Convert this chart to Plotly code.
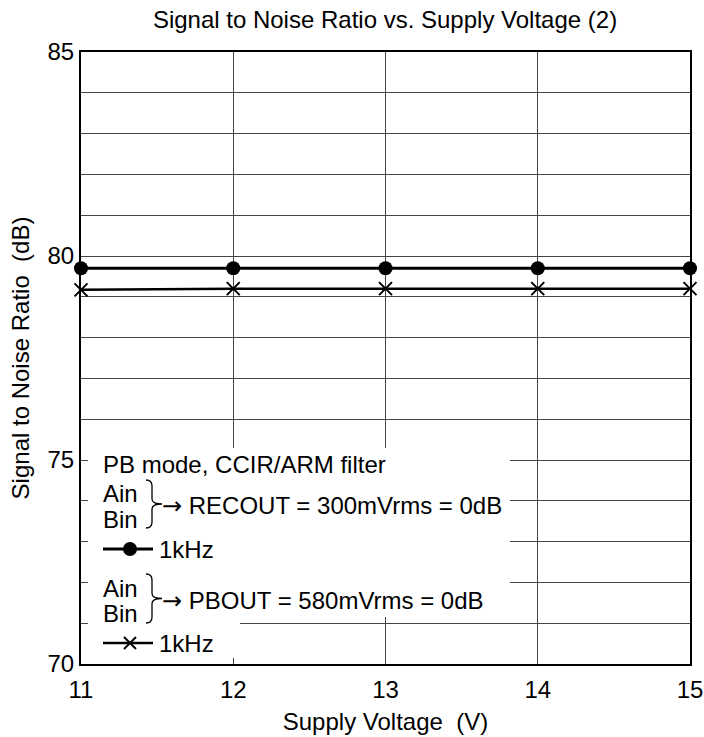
import plotly.graph_objects as go

# Daten
voltage = [11, 12, 13, 14, 15]
snr_recout = [79.7, 79.7, 79.7, 79.7, 79.7]
snr_pbout = [79.17, 79.2, 79.2, 79.2, 79.2]
x_ticks = [11, 12, 13, 14, 15]
y_ticks = [70, 75, 80, 85]

FONT = "Liberation Sans, Arial, Helvetica, sans-serif"
FS = 24
W, H = 704, 737

# Seitenpixel -> Achsenwerte (Plotfläche 81..690 x 52..664)
def dx(px):
    return 11 + (px - 81) / 609 * 4

def dy(py):
    return 85 - (py - 52) / 612 * 15

def px_x(px):
    return (px - 81) / 609

def px_y(py):
    return 1 - (py - 52) / 612

fig = go.Figure()
fig.add_trace(go.Scatter(
    x=voltage, y=snr_recout, mode='lines+markers', name='1kHz',
    line=dict(color='black', width=3),
    marker=dict(symbol='circle', size=14, color='black'),
    cliponaxis=False
))
fig.add_trace(go.Scatter(
    x=voltage, y=snr_pbout, mode='lines+markers', name='1kHz',
    line=dict(color='black', width=2.5),
    marker=dict(symbol='x-thin', size=13, line=dict(color='black', width=2)),
    cliponaxis=False
))

# weiße Flächen über dem Gitter (Legendenbereich)
shapes = [
    dict(type='rect', xref='x', yref='y', layer='between',
         x0=dx(88), x1=dx(510), y0=dy(448), y1=dy(617),
         fillcolor='white', line_width=0),
    dict(type='rect', xref='x', yref='y', layer='between',
         x0=dx(88), x1=dx(240), y0=dy(617), y1=dy(658),
         fillcolor='white', line_width=0),
]

def pth(pts):
    s = ''
    for cmd, coords in pts:
        s += cmd + ' '.join(f'{dx(a):.5f},{dy(b):.5f}' for a, b in coords) + ' '
    return s.strip()

def brace(top, bottom):
    mid = (top + bottom) / 2
    pts = [
        ('M', [(146, top)]),
        ('Q', [(152, top), (152, top + 6)]),
        ('L', [(152, mid - 5)]),
        ('Q', [(152, mid), (162, mid)]),
        ('Q', [(152, mid), (152, mid + 5)]),
        ('L', [(152, bottom - 6)]),
        ('Q', [(152, bottom), (146, bottom)]),
    ]
    return dict(type='path', xref='x', yref='y', path=pth(pts),
                line=dict(color='black', width=1.3), layer='above')

shapes.append(brace(480, 528))
shapes.append(brace(574, 623))

# Legendensymbole
shapes.append(dict(type='line', xref='x', yref='y', x0=dx(103), x1=dx(153),
                   y0=dy(549), y1=dy(549), line=dict(color='black', width=3)))
shapes.append(dict(type='circle', xref='x', yref='y', x0=dx(123), x1=dx(137),
                   y0=dy(542), y1=dy(556), fillcolor='black', line_width=0))
shapes.append(dict(type='line', xref='x', yref='y', x0=dx(103), x1=dx(153),
                   y0=dy(643), y1=dy(643), line=dict(color='black', width=2.5)))
shapes.append(dict(type='path', xref='x', yref='y',
                   path=pth([('M', [(124, 637)]), ('L', [(136, 649)]),
                             ('M', [(124, 649)]), ('L', [(136, 637)])]),
                   line=dict(color='black', width=2)))

ARROW = '<span style="font-family:DejaVu Sans">→</span> '

def note(text, px, py):
    return dict(text=text, xref='paper', yref='paper', x=px_x(px), y=px_y(py),
                xanchor='left', yanchor='middle', showarrow=False,
                font=dict(family=FONT, size=FS, color='black'))

annotations = [
    note('PB mode, CCIR/ARM filter', 101, 464),
    note('Ain', 101, 493),
    note('Bin', 101, 519),
    note(ARROW + 'RECOUT = 300mVrms = 0dB', 160, 506),
    note('1kHz', 157, 549),
    note('Ain', 101, 588),
    note('Bin', 101, 613),
    note(ARROW + 'PBOUT = 580mVrms = 0dB', 160, 601),
    note('1kHz', 157, 643),
]

fig.update_layout(
    width=W, height=H,
    margin=dict(l=81, r=W - 690, t=52, b=H - 664),
    paper_bgcolor='white', plot_bgcolor='white',
    font=dict(family=FONT, size=FS, color='black'),
    showlegend=False,
    title=dict(text='Signal to Noise Ratio vs. Supply Voltage (2)',
               x=385 / W, xanchor='center',
               y=1 - 20 / H, yanchor='middle',
               font=dict(family=FONT, size=FS, color='black')),
    xaxis=dict(range=[11, 15], tickvals=x_ticks, ticktext=[str(v) for v in x_ticks],
               showgrid=True, gridcolor='#444', gridwidth=1,
               showline=True, linecolor='black', linewidth=2, mirror=True,
               ticks='', zeroline=False, automargin=False, ticklabelstandoff=3,
               title=dict(text='Supply Voltage\u00a0 (V)', standoff=11,
                          font=dict(family=FONT, size=FS, color='black'))),
    yaxis=dict(range=[70, 85], tickvals=list(range(70, 86)),
               ticktext=[str(v) if v in y_ticks else '' for v in range(70, 86)],
               showgrid=True, gridcolor='#444', gridwidth=1,
               showline=True, linecolor='black', linewidth=2, mirror=True,
               ticks='', zeroline=False, automargin=False,
               title=dict(text='Signal to Noise Ratio\u00a0 (dB)', standoff=11,
                          font=dict(family=FONT, size=FS, color='black'))),
    shapes=shapes,
    annotations=annotations,
)

# Seitenrand entfernen, damit die Figur genau ins Fenster passt
fig.write_html("out.html", config={'displayModeBar': False},
               post_script="document.body.style.margin='0';")
